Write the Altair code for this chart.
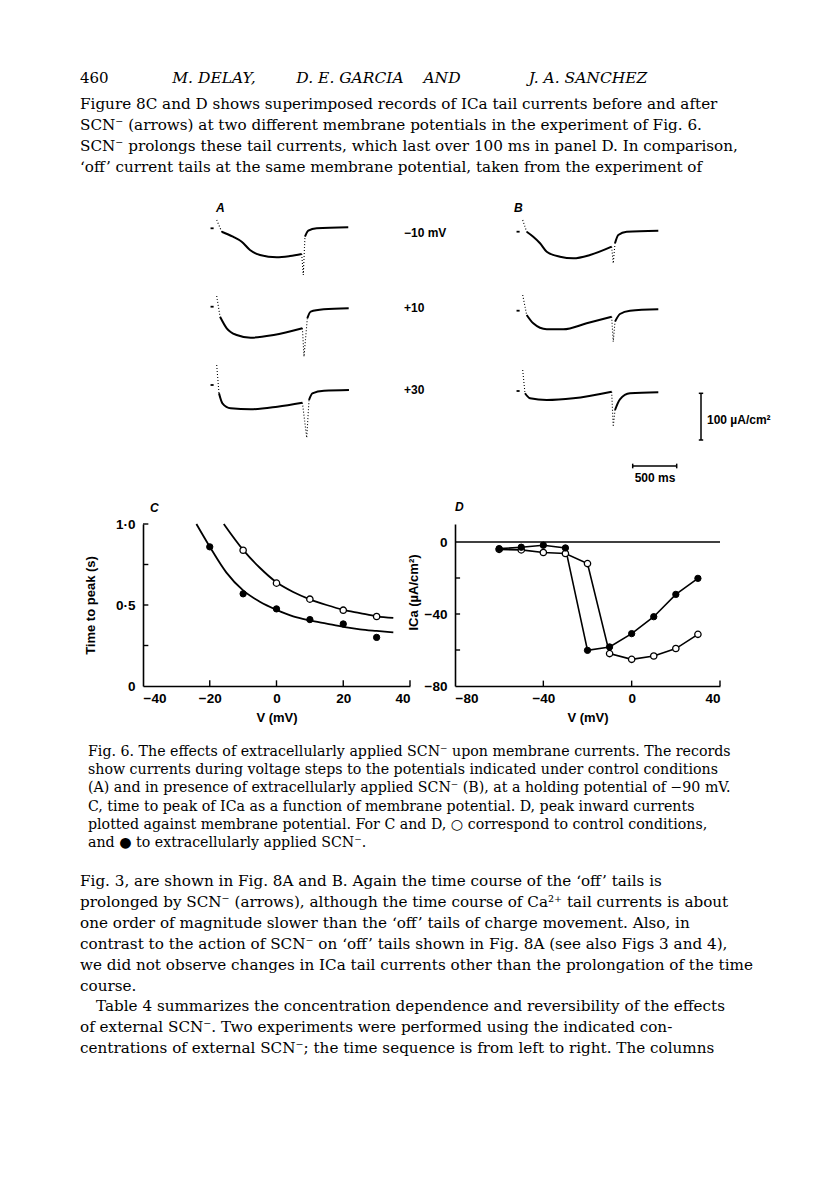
import altair as alt
import pandas as pd

# ---------------------------------------------------------------- data
# Panel C : time to peak of I_Ca (s) vs membrane potential (mV)
C_V_CONTROL = [-10, 0, 10, 20, 30]
C_T_CONTROL = [0.838, 0.635, 0.536, 0.468, 0.429]
C_V_SCN = [-20, -10, 0, 10, 20, 30]
C_T_SCN = [0.859, 0.569, 0.476, 0.410, 0.383, 0.300]
# fitted curves
C_FIT_CONTROL_V = [-15.8, -10, -5, 0, 5, 10, 15, 20, 25, 30, 35]
C_FIT_CONTROL_T = [1.0, 0.84, 0.73, 0.64, 0.58, 0.535, 0.50, 0.47, 0.45, 0.43, 0.42]
C_FIT_SCN_V = [-24, -20, -15, -10, -5, 0, 5, 10, 15, 20, 25, 30, 35]
C_FIT_SCN_T = [1.0, 0.86, 0.70, 0.59, 0.52, 0.47, 0.43, 0.405, 0.385, 0.365, 0.35, 0.34, 0.331]

# Panel D : peak inward current (uA/cm2) vs membrane potential (mV)
D_V = [-60, -50, -40, -30, -20, -10, 0, 10, 20, 30]
D_I_CONTROL = [-4.1, -4.4, -5.8, -6.4, -12.0, -62.0, -65.2, -63.3, -59.2, -51.3]
D_I_SCN = [-3.7, -2.9, -1.8, -3.3, -60.2, -58.3, -50.9, -41.5, -29.1, -20.2]

C_X_LABELS = [-40, -20, 0, 20, 40]
C_Y_LABELS = [0, 0.5, 1.0]
C_X_TICKS = [-20, 0, 20, 40]
C_Y_TICKS = [0.25, 0.5, 0.75, 1.0]
D_X_LABELS = [-80, -40, 0, 40]
D_Y_LABELS = [-80, -40, 0]
D_X_TICKS = [-40, 0, 40]
D_Y_TICKS = [-60, -40, -20]

# Current records (time in ms from step onset, current in uA/cm2 from holding level)
A_M10_T = [0, 57, 185, 284, 378, 492, 682, 833, 966, 984, 1003, 1041, 1136, 1495]
A_M10_I = [17.8, -7.3, -18, -28.7, -46.4, -57.1, -62, -59.3, -55, -100, -18, -5.1, 0, 2.1]
A_P10_T = [0, 38, 114, 227, 386, 648, 974, 992, 1030, 1068, 1216, 1500]
A_P10_I = [22.9, -21.4, -46.2, -60.5, -66.3, -60.5, -46.2, -107, -24.6, -10.5, -5.6, -3.4]
A_P30_T = [0, 26, 65, 159, 386, 690, 974, 1023, 1049, 1087, 1219, 1503]
A_P30_I = [42.8, -17.8, -39.2, -49.9, -52, -46.4, -37.9, -113, -32.1, -17.8, -12.2, -10.7]
B_M10_T = [0, 45, 120, 197, 273, 424, 575, 765, 1011, 1029, 1049, 1086, 1182, 1541]
B_M10_I = [25, 0, -10.7, -24.8, -42.8, -53.5, -56.9, -49.9, -32.1, -67.6, -24.8, -7.1, 0, 2.1]
B_P10_T = [0, 45, 120, 273, 461, 727, 1011, 1029, 1049, 1105, 1219, 1541]
B_P10_I = [33.6, -9.2, -27, -39.8, -39.8, -27, -12.8, -66.3, -23.5, -7.1, 0, 3]
B_P30_T = [0, 26, 83, 273, 575, 1011, 1029, 1049, 1105, 1219, 1541]
B_P30_I = [44.9, -4.9, -15.6, -19.3, -15.6, -1.5, -76.4, -40.7, -17.8, -4.9, -2.8]
POTENTIALS = ["\u221210 mV", "+10", "+30"]
SCALE_MS = 500
SCALE_UA = 100

HEADER_NUM = "460"
HEADER_AUTHORS = ["M. DELAY,", "D. E. GARCIA", "AND", "J. A. SANCHEZ"]
TOP_LINES = [
    "Figure 8C and D shows superimposed records of ICa tail currents before and after",
    "SCN\u207b (arrows) at two different membrane potentials in the experiment of Fig. 6.",
    "SCN\u207b prolongs these tail currents, which last over 100 ms in panel D. In comparison,",
    "\u2018off\u2019 current tails at the same membrane potential, taken from the experiment of",
]
CAPTION_LINES = [
    "Fig. 6. The effects of extracellularly applied SCN\u207b upon membrane currents. The records",
    "show currents during voltage steps to the potentials indicated under control conditions",
    "(A) and in presence of extracellularly applied SCN\u207b (B), at a holding potential of \u221290 mV.",
    "C, time to peak of ICa as a function of membrane potential. D, peak inward currents",
    "plotted against membrane potential. For C and D, \u25cb correspond to control conditions,",
    "and \u25cf to extracellularly applied SCN\u207b.",
]
BOTTOM_LINES = [
    "Fig. 3, are shown in Fig. 8A and B. Again the time course of the \u2018off\u2019 tails is",
    "prolonged by SCN\u207b (arrows), although the time course of Ca\u00b2\u207a tail currents is about",
    "one order of magnitude slower than the \u2018off\u2019 tails of charge movement. Also, in",
    "contrast to the action of SCN\u207b on \u2018off\u2019 tails shown in Fig. 8A (see also Figs 3 and 4),",
    "we did not observe changes in ICa tail currents other than the prolongation of the time",
    "course.",
    "Table 4 summarizes the concentration dependence and reversibility of the effects",
    "of external SCN\u207b. Two experiments were performed using the indicated con-",
    "centrations of external SCN\u207b; the time sequence is from left to right. The columns",
]

# ---------------------------------------------------------------- layout / style
SERIF = "DejaVu Serif"
SANS = "Liberation Sans"
BODY = 15.2
CAP = 14.2
W = 800
TOP_H = 516
MID_H = 162
BOT_H = 489
PX_MS = 44 / 500.0
PX_UA = 46.7 / 100.0
A_X0 = 208.7
A_Y0 = 220.3
B_SHIFT = (522.7 - 216.7) / PX_MS
ROW_OFF = {"A": [0, 78.4, 156.7], "B": [3.4, 82.4, 162.7]}
C_RANGE = [135, 402]
D_RANGE = [447, 712]

ONE = pd.DataFrame({"k": [0]})


def txt(s, x, y, size=BODY, font=SERIF, align="left", style="normal", weight="normal"):
    return alt.Chart(ONE).mark_text(
        x=x, y=y, align=align, baseline="middle", font=font, fontSize=size,
        fontStyle=style, fontWeight=weight, color="black"
    ).encode(text=alt.value(s))


# ---------------------------------------------------------------- top: text + records
traces = [("A", 0, A_M10_T, A_M10_I, 9), ("A", 1, A_P10_T, A_P10_I, 7),
          ("A", 2, A_P30_T, A_P30_I, 7), ("B", 0, B_M10_T, B_M10_I, 9),
          ("B", 1, B_P10_T, B_P10_I, 7), ("B", 2, B_P30_T, B_P30_I, 6)]
rows = []
marks = []
for panel, r, T, I, k in traces:
    pts = list(zip(T, I))
    shift = B_SHIFT if panel == "B" else 0.0
    off = -ROW_OFF[panel][r] / PX_UA
    segs = [("dot", pts[0:2]), ("solid", pts[1:k]), ("dot", pts[k - 1:k + 2]), ("solid", pts[k + 1:])]
    for j, (sty, seg) in enumerate(segs):
        for n, (t, i) in enumerate(seg):
            rows.append(dict(seg=f"{panel}{r}{j}", style=sty, n=n, x=t + shift, y=i + off))
    marks.append(dict(x=-70 + shift, x2=-35 + shift, y=off))
tr = pd.DataFrame(rows)
mk = pd.DataFrame(marks)

XS = alt.Scale(domain=[-A_X0 / PX_MS, (W - A_X0) / PX_MS], nice=False, zero=False)
YS = alt.Scale(domain=[-(TOP_H - A_Y0) / PX_UA, A_Y0 / PX_UA], nice=False, zero=False)
TX = alt.X("x:Q", scale=XS, axis=None)
TY = alt.Y("y:Q", scale=YS, axis=None)

solid = alt.Chart(tr).transform_filter(alt.datum.style == "solid").mark_line(
    color="black", strokeWidth=2.0, interpolate="monotone").encode(
    x=TX, y=TY, detail="seg:N", order="n:Q")
dotted = alt.Chart(tr).transform_filter(alt.datum.style == "dot").mark_line(
    color="black", strokeWidth=1.1, strokeDash=[1, 2]).encode(x=TX, y=TY, detail="seg:N", order="n:Q")
markers = alt.Chart(mk).mark_rule(color="black", strokeWidth=1.8).encode(
    x=TX, x2="x2:Q", y=TY)

vbar_t = (693 - A_X0) / PX_MS
vbar_top = -(385.3 - A_Y0) / PX_UA
hbar_t = (624.7 - A_X0) / PX_MS
hbar_i = -(458 - A_Y0) / PX_UA
bars = pd.DataFrame([
    dict(x=vbar_t, x2=vbar_t, y=vbar_top, y2=vbar_top - SCALE_UA),
    dict(x=hbar_t, x2=hbar_t + SCALE_MS, y=hbar_i, y2=hbar_i),
    dict(x=vbar_t - 25, x2=vbar_t + 25, y=vbar_top, y2=vbar_top),
    dict(x=vbar_t - 25, x2=vbar_t + 25, y=vbar_top - SCALE_UA, y2=vbar_top - SCALE_UA),
    dict(x=hbar_t, x2=hbar_t, y=hbar_i - 5, y2=hbar_i + 5),
    dict(x=hbar_t + SCALE_MS, x2=hbar_t + SCALE_MS, y=hbar_i - 5, y2=hbar_i + 5),
])
scalebars = alt.Chart(bars).mark_rule(color="black", strokeWidth=1.5).encode(
    x=TX, x2="x2:Q", y=TY, y2="y2:Q")

top_layers = [solid, dotted, markers, scalebars,
              txt(HEADER_NUM, 72, 70, size=15)]
for s, cx in zip(HEADER_AUTHORS, [206, 342, 434, 580]):
    top_layers.append(txt(s, cx, 70, size=15.5, align="center", style="italic"))
for i, s in enumerate(TOP_LINES):
    top_layers.append(txt(s, 72, 96 + i * 21))
top_layers += [
    txt("A", 208, 200, size=12, font=SANS, style="italic", weight="bold"),
    txt("B", 506, 200, size=12, font=SANS, style="italic", weight="bold"),
    txt("100 \u00b5A/cm\u00b2", 699, 412, size=12, font=SANS, weight="bold"),
    txt("500 ms", 647, 470, size=12, font=SANS, align="center", weight="bold"),
    txt("C", 142, 500, size=12, font=SANS, style="italic", weight="bold"),
    txt("D", 447, 499, size=12, font=SANS, style="italic", weight="bold"),
]
for s, yy in zip(POTENTIALS, [224.7, 300, 382]):
    top_layers.append(txt(s, 396, yy, size=12, font=SANS, weight="bold"))
top = alt.layer(*top_layers).properties(width=W, height=TOP_H)

# ---------------------------------------------------------------- panel C
AX = dict(ticks=False, tickSize=0, grid=False, domainColor="black", domainWidth=1.6,
          labelFont=SANS, labelFontSize=13.5, labelFontWeight="bold", labelColor="black",
          titleFont=SANS, titleFontSize=13, titleFontWeight="bold", titleColor="black")
CXS = alt.Scale(domain=[-40, 40], range=C_RANGE, nice=False, zero=False)
CYS = alt.Scale(domain=[0, 1], nice=False, zero=False)
CX_AXIS = alt.Axis(values=C_X_LABELS, title="V (mV)", orient="bottom",
                   labelPadding=5, titlePadding=7, **AX)
CY_AXIS = alt.Axis(values=C_Y_LABELS, title="Time to peak (s)", orient="left", offset=-C_RANGE[0],
                   labelPadding=8, titlePadding=18,
                   labelExpr="datum.value == 0 ? '0' : replace(format(datum.value, '.1f'), '.', '\u00b7')",
                   **AX)
CX = alt.X("v:Q", scale=CXS, axis=CX_AXIS)
CY = alt.Y("t:Q", scale=CYS, axis=CY_AXIS)

c_fit = pd.concat([
    pd.DataFrame({"v": C_FIT_CONTROL_V, "t": C_FIT_CONTROL_T, "cond": "control"}),
    pd.DataFrame({"v": C_FIT_SCN_V, "t": C_FIT_SCN_T, "cond": "SCN"}),
])
c_pts = pd.concat([
    pd.DataFrame({"v": C_V_CONTROL, "t": C_T_CONTROL, "cond": "control"}),
    pd.DataFrame({"v": C_V_SCN, "t": C_T_SCN, "cond": "SCN"}),
])
c_ticks = pd.concat([
    pd.DataFrame({"v": C_X_TICKS, "v2": C_X_TICKS, "t": 0.0, "t2": 0.035}),
    pd.DataFrame({"v": -40.0, "v2": -38.4, "t": C_Y_TICKS, "t2": C_Y_TICKS}),
])
c_line = alt.Chart(c_fit).mark_line(color="black", strokeWidth=1.8, interpolate="monotone").encode(
    x=CX, y=CY, detail="cond:N")
c_tk = alt.Chart(c_ticks).mark_rule(color="black", strokeWidth=1.4).encode(
    x=CX, x2="v2:Q", y=CY, y2="t2:Q")
c_open = alt.Chart(c_pts).transform_filter(alt.datum.cond == "control").mark_point(
    shape="circle", filled=True, fill="white", stroke="black", strokeWidth=1.3, size=40, opacity=1
).encode(x=CX, y=CY)
c_fill = alt.Chart(c_pts).transform_filter(alt.datum.cond == "SCN").mark_point(
    shape="circle", filled=True, fill="black", stroke="black", strokeWidth=1.0, size=40, opacity=1
).encode(x=CX, y=CY)
chart_c = alt.layer(c_line, c_tk, c_open, c_fill)

# ---------------------------------------------------------------- panel D
DXS = alt.Scale(domain=[-80, 40], range=D_RANGE, nice=False, zero=False)
DYS = alt.Scale(domain=[-80, 10], nice=False, zero=False)
DX_AXIS = alt.Axis(values=D_X_LABELS, title="V (mV)", orient="bottom",
                   labelPadding=5, titlePadding=7, **AX)
DY_AXIS = alt.Axis(values=D_Y_LABELS, title="ICa (\u00b5A/cm\u00b2)", orient="left", offset=-D_RANGE[0],
                   labelPadding=8, titlePadding=4, titleY=68, **AX)
DX = alt.X("v:Q", scale=DXS, axis=DX_AXIS)
DY = alt.Y("i:Q", scale=DYS, axis=DY_AXIS)
d_pts = pd.concat([
    pd.DataFrame({"v": D_V, "i": D_I_CONTROL, "cond": "control"}),
    pd.DataFrame({"v": D_V, "i": D_I_SCN, "cond": "SCN"}),
])
d_ticks = pd.concat([
    pd.DataFrame({"v": D_X_TICKS, "v2": D_X_TICKS, "i": -80.0, "i2": -77.0}),
    pd.DataFrame({"v": -80.0, "v2": -77.7, "i": D_Y_TICKS, "i2": D_Y_TICKS}),
    pd.DataFrame({"v": [-80.0], "v2": [40.0], "i": [0.0], "i2": [0.0]}),  # zero-current line
])
d_line = alt.Chart(d_pts).mark_line(color="black", strokeWidth=1.6).encode(
    x=DX, y=DY, detail="cond:N")
d_tk = alt.Chart(d_ticks).mark_rule(color="black", strokeWidth=1.4).encode(
    x=DX, x2="v2:Q", y=DY, y2="i2:Q")
d_open = alt.Chart(d_pts).transform_filter(alt.datum.cond == "control").mark_point(
    shape="circle", filled=True, fill="white", stroke="black", strokeWidth=1.3, size=40, opacity=1
).encode(x=DX, y=DY)
d_fill = alt.Chart(d_pts).transform_filter(alt.datum.cond == "SCN").mark_point(
    shape="circle", filled=True, fill="black", stroke="black", strokeWidth=1.0, size=40, opacity=1
).encode(x=DX, y=DY)
chart_d = alt.layer(d_line, d_tk, d_open, d_fill)

middle = alt.layer(chart_c, chart_d).resolve_scale(
    x="independent", y="independent").resolve_axis(
    x="independent", y="independent").properties(width=W, height=MID_H)

# ---------------------------------------------------------------- bottom text
bot_layers = []
for i, s in enumerate(CAPTION_LINES):
    bot_layers.append(txt(s, 80, 66 + i * 18.2, size=CAP))
for i, s in enumerate(BOTTOM_LINES):
    bot_layers.append(txt(s, 88 if i == 6 else 72, 195 + i * 20.9))
bottom = alt.layer(*bot_layers).properties(width=W, height=BOT_H)

chart = alt.vconcat(top, middle, bottom, spacing=0, bounds="flush").properties(
    padding=0, background="white"
).configure_view(stroke=None)

chart.save("out.html", embed_options={"renderer": "svg", "actions": False})
